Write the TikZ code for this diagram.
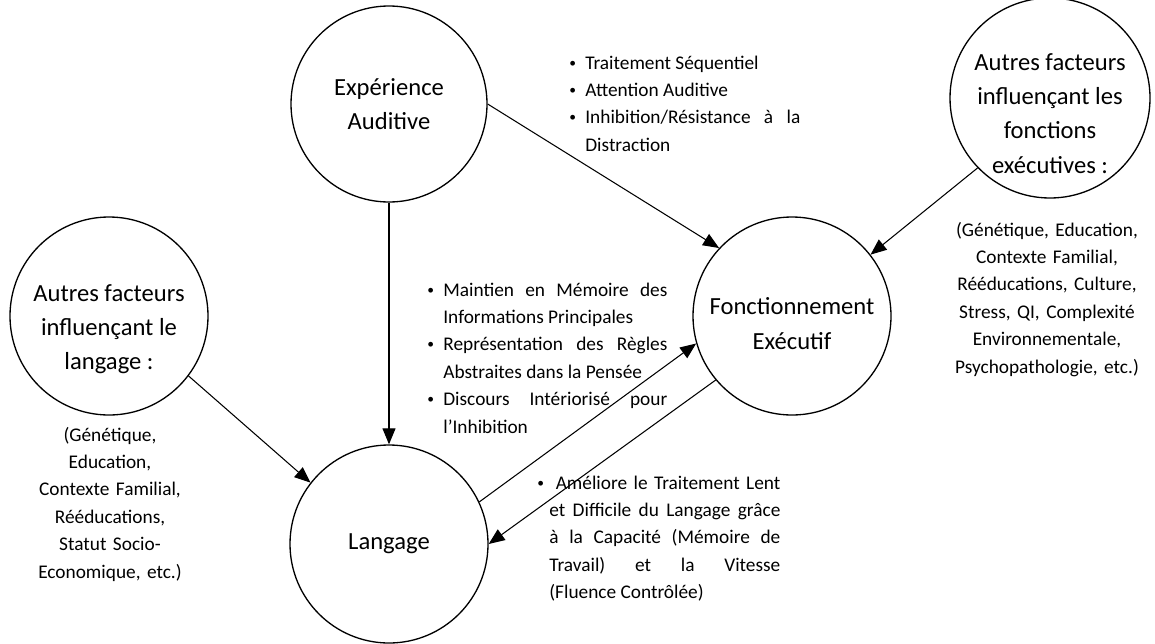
\documentclass[tikz,border=0pt]{standalone}
\usepackage{fontspec}
\setmainfont{Carlito}
\usetikzlibrary{arrows.meta}

% bullet item with hanging indent (end each item with \par)
\newcommand{\bitem}[1][0.32cm]{\noindent\hangindent=#1\hangafter=1\makebox[#1][l]{\raisebox{0.1em}{\scalebox{0.7}{\textbullet}}}}

\tikzset{
  bubble/.style={circle, draw, line width=0.75pt, minimum size=3.96cm, inner sep=0pt},
  bubbletxt/.style={font=\fontsize{14}{19.5}\selectfont, align=center},
  listtxt/.style={font=\fontsize{11}{15.6}\selectfont, align=justify, inner sep=0pt, anchor=base west},
  factortxt/.style={font=\fontsize{11}{15.6}\selectfont, align=center, inner sep=0pt, anchor=base},
  arr/.style={-{Triangle[length=0.32cm, width=0.26cm]}, line width=0.6pt}
}

\begin{document}
\begin{tikzpicture}
    \useasboundingbox (0,0) rectangle (23.1,12.86);

    % Circles
    \node[bubble, bubbletxt, minimum size=3.92cm] (exp) at (7.78,10.78) {Expérience\\Auditive};
    \node[bubble] (fonc) at (15.84,6.54) {};
    \node[bubble, bubbletxt] (lang) at (7.78,1.98) {Langage};
    \node[bubble] (ofl) at (2.18,6.54) {};
    \node[bubble, minimum size=4cm] (ofe) at (21.0,10.9) {};

    % Circle texts sitting a bit low, as in the text boxes
    \node[bubbletxt] (fonctxt) at ([yshift=-0.15cm]fonc.center) {Fonctionnement\\Exécutif};
    \node[bubbletxt] (ofltxt) at ([yshift=-0.26cm]ofl.center) {Autres facteurs\\influençant le\\langage :};
    \node[bubbletxt] (ofetxt) at ([yshift=-0.31cm]ofe.center) {Autres facteurs\\influençant les\\fonctions\\exécutives :};

    % Bullet lists
    \node[listtxt, text width=4.62cm] (seqlist) at (11.38,11.48) {%
        \bitem Traitement Séquentiel\par
        \bitem Attention Auditive\par
        \bitem Inhibition/Résistance à la\linebreak Distraction\par};
    \node[listtxt, text width=4.80cm] (wmlist) at (8.54,6.94) {%
        \bitem Maintien en Mémoire des\linebreak Informations Principales\par
        \bitem Représentation des Règles\linebreak Abstraites dans la Pensée\par
        \bitem Discours Intériorisé pour\linebreak l’Inhibition\par};
    \node[listtxt, text width=4.86cm] (speedlist) at (10.74,3.08) {%
        \bitem[0.24cm] Améliore le Traitement Lent\linebreak et Difficile du Langage grâce\linebreak à la Capacité (Mémoire de\linebreak Travail) et la Vitesse\linebreak (Fluence Contrôlée)\par};

    % Other factors
    \node[factortxt, text width=3.4cm] (ofllist) at (2.20,4.04) {(Génétique,\\Education,\\Contexte Familial,\\Rééducations,\\Statut Socio-\\Economique, etc.)};
    \node[factortxt, text width=4.2cm] (ofelist) at (20.94,8.14) {(Génétique, Education,\\Contexte Familial,\\Rééducations, Culture,\\Stress, QI, Complexité\\Environnementale,\\Psychopathologie, etc.)};

    % Arrows
    \draw[arr] (exp.east) -- (fonc.137);
    \draw[arr] (exp.south) -- (lang.north);
    \draw[arr] (ofe.224) -- (fonc.38);
    \draw[arr] (ofl.-37) -- (lang.142);
    \draw[arr] (lang.25) -- (fonc.196);
    \draw[arr] (fonc.220) -- (lang.east);

\end{tikzpicture}
\end{document}
